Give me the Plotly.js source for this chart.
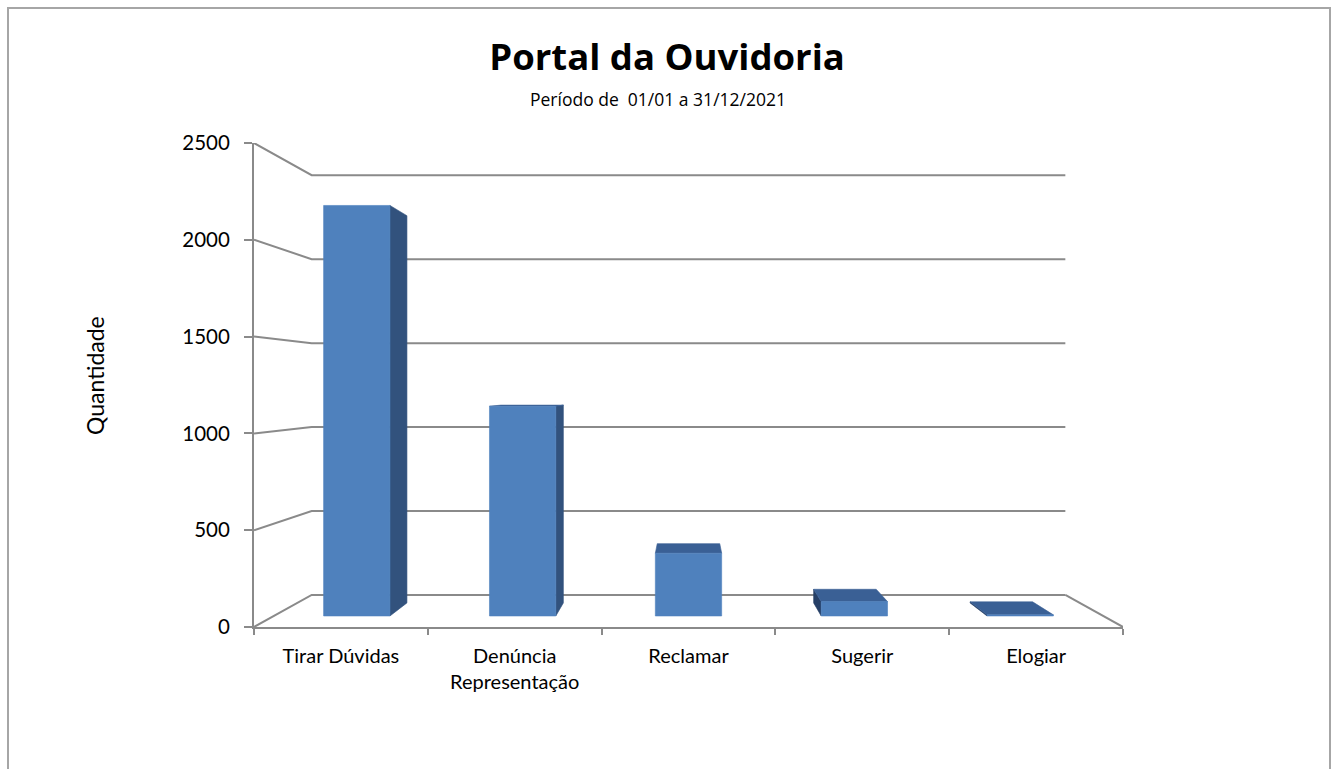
<!DOCTYPE html>
<html>
<head>
<meta charset="utf-8">
<script src="https://cdn.plot.ly/plotly-3.0.1.min.js"></script>
<style>
  html, body { margin: 0; padding: 0; background: #ffffff; overflow: hidden; width: 1332px; height: 769px; }
  #frame { position: absolute; left: 7px; top: 7px; width: 1320px; height: 820px; border: 2px solid #a6a6a6; box-sizing: content-box; }
  #chart { position: absolute; left: 0; top: 0; width: 1332px; height: 769px; }
</style>
</head>
<body>
<div id="frame"></div>
<div id="chart"></div>
<script>
// ---- data ----
const categories = ['Tirar Dúvidas', 'Denúncia<br>Representação', 'Reclamar', 'Sugerir', 'Elogiar'];
const values = [2222, 1135, 340, 78, 6];
const yTicks = [0, 500, 1000, 1500, 2000, 2500];
const titleText = 'Portal da Ouvidoria';
const subtitleText = 'Período de  01/01 a 31/12/2021';
const yTitleText = 'Quantidade';

// ---- pseudo-3D projection (perspective toward centre of front wall) ----
const N = categories.length;
const VX = N / 2, VY = 1246;      // vanishing point in data units
const S_FRONT = 0.9543;           // bar front plane
const S_BACK = 0.90;              // bar back plane
const S_WALL = 0.8673;            // back wall plane
const BAR_W = 0.4;
function P(x, v, s) { return [VX + (x - VX) * s, VY + (v - VY) * s]; }

const FONT = 'Lato, "Open Sans", sans-serif';
const TFONT = '"Open Sans", Lato, sans-serif';
const GRID = '#8a8a8a';
const traces = [];

// gridlines: front-left wall diagonal + back wall horizontal
const gx = [], gy = [];
yTicks.forEach(v => {
  const a = P(0, v, S_WALL), b = P(N, v, S_WALL);
  gx.push(0, a[0], b[0], null);
  gy.push(v, a[1], b[1], null);
});
// floor right edge
const fr = P(N, 0, S_WALL);
gx.push(N, fr[0], null); gy.push(0, fr[1], null);
traces.push({ type: 'scatter', mode: 'lines', x: gx, y: gy, connectgaps: false,
  line: { color: GRID, width: 2 }, hoverinfo: 'skip', showlegend: false });

function poly(pts, color) {
  const xs = pts.map(p => p[0]), ys = pts.map(p => p[1]);
  xs.push(xs[0]); ys.push(ys[0]);
  traces.push({ type: 'scatter', mode: 'lines', x: xs, y: ys, fill: 'toself',
    fillcolor: color, line: { color: color, width: 0.6 }, hoverinfo: 'skip', showlegend: false });
}

values.forEach((v, i) => {
  const c = i + 0.5, xl = c - BAR_W / 2, xr = c + BAR_W / 2;
  if (c < VX - 1e-9) {
    poly([P(xr, 0, S_FRONT), P(xr, 0, S_BACK), P(xr, v, S_BACK), P(xr, v, S_FRONT)], '#32527D');
  } else if (c > VX + 1e-9) {
    poly([P(xl, 0, S_FRONT), P(xl, 0, S_BACK), P(xl, v, S_BACK), P(xl, v, S_FRONT)], '#253F66');
  }
  if (v < VY) {
    poly([P(xl, v, S_FRONT), P(xr, v, S_FRONT), P(xr, v, S_BACK), P(xl, v, S_BACK)], '#3A6095');
  }
  poly([P(xl, 0, S_FRONT), P(xr, 0, S_FRONT), P(xr, v, S_FRONT), P(xl, v, S_FRONT)], '#4F81BD');
});

// dummy trace for the category-label axis
traces.push({ type: 'scatter', mode: 'markers', x: [0.5], y: [0], xaxis: 'x2',
  marker: { opacity: 0 }, hoverinfo: 'skip', showlegend: false });

const catPos = categories.map((_, i) => i + 0.5);
const bounds = Array.from({ length: N + 1 }, (_, i) => i);

const layout = {
  width: 1332, height: 769,
  margin: { l: 254, r: 209, t: 143, b: 142 },
  paper_bgcolor: 'rgba(0,0,0,0)', plot_bgcolor: 'rgba(0,0,0,0)',
  showlegend: false,
  title: { text: '<b>' + titleText + '</b>', font: { family: TFONT, size: 36.5, color: '#000' },
    xref: 'container', x: 0.5008, xanchor: 'center', yref: 'container', y: 0.925, yanchor: 'middle' },
  xaxis: { range: [0, N], showgrid: false, zeroline: false, showline: true, linecolor: GRID, linewidth: 2,
    tickmode: 'array', tickvals: bounds, ticks: 'outside', ticklen: 6, tickwidth: 2, tickcolor: GRID,
    showticklabels: false, fixedrange: true },
  xaxis2: { overlaying: 'x', anchor: 'y', side: 'bottom', range: [0, N], showgrid: false, zeroline: false,
    showline: false, tickmode: 'array', tickvals: catPos, ticktext: categories, ticks: '',
    ticklabelstandoff: 15, tickfont: { family: FONT, size: 20, color: '#000' }, fixedrange: true },
  yaxis: { range: [0, 2500], showgrid: false, zeroline: false, showline: true, linecolor: GRID, linewidth: 2,
    tickmode: 'array', tickvals: yTicks, ticks: 'outside', ticklen: 8, tickwidth: 2, tickcolor: GRID,
    ticklabelstandoff: 10, tickfont: { family: FONT, size: 20.5, color: '#000' }, fixedrange: true },
  annotations: [
    { text: subtitleText, xref: 'paper', yref: 'paper', x: 0.4649, y: 1.0909, xanchor: 'center', yanchor: 'middle',
      showarrow: false, font: { family: TFONT, size: 17.5, color: '#000' } },
    { text: yTitleText, xref: 'paper', yref: 'paper', x: -0.183, y: 0.5207, xanchor: 'center', yanchor: 'middle',
      textangle: -90, showarrow: false, font: { family: FONT, size: 23, color: '#000' } }
  ]
};

Plotly.newPlot('chart', traces, layout, { displayModeBar: false, staticPlot: true });
</script>
</body>
</html>
